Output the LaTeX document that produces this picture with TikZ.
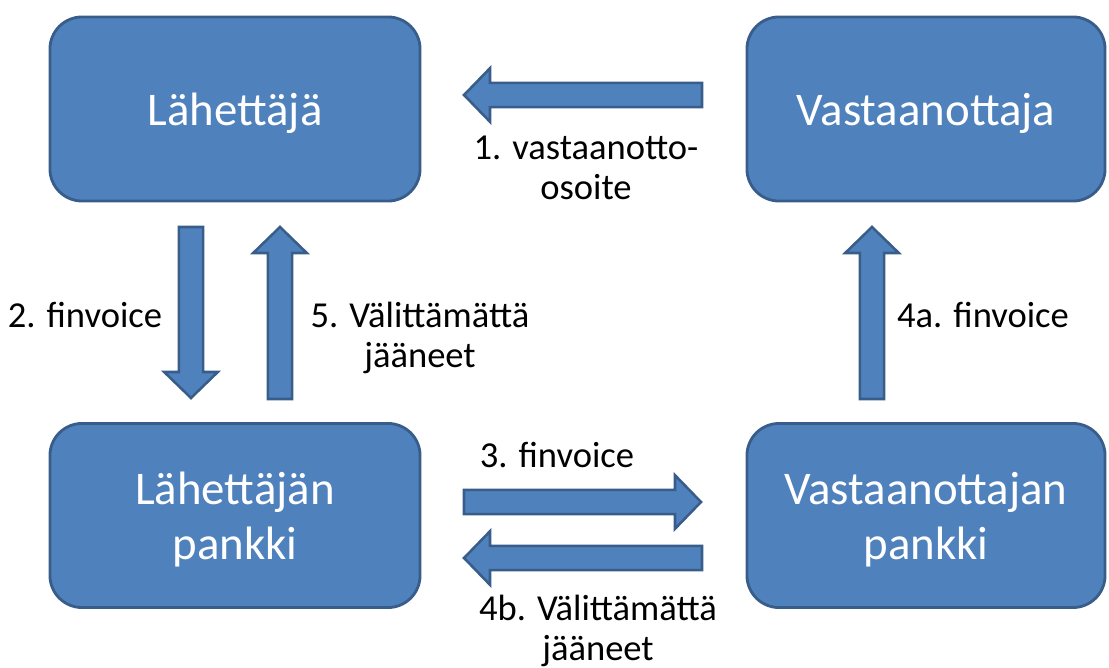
\documentclass[tikz,border=0pt]{standalone}
\usepackage{fontspec}
\setmainfont{Carlito}
\usetikzlibrary{calc}

% Block arrow from #1 (tail) to #2 (tip)
\newcommand{\blockarrow}[2]{%
  \draw[flowarrow] let \p1=($(#2)!\headLen!(#1)$) in
    ($(#1)!\shaftW!90:(#2)$) -- ($(\p1)!\shaftW!90:(#2)$) -- ($(\p1)!\headW!90:(#2)$) -- (#2)
    -- ($(\p1)!\headW!-90:(#2)$) -- ($(\p1)!\shaftW!-90:(#2)$) -- ($(#1)!\shaftW!-90:(#2)$) -- cycle;}

\begin{document}
\begin{tikzpicture}[x=0.025cm, y=-0.025cm,
    partybox/.style={draw=boxBorder, line width=2pt, fill=boxFill, rounded corners=0.8cm,
      text=white, align=center, font=\fontsize{33.3}{39}\selectfont, inner sep=0pt,
      text depth=0pt, minimum height=4.6cm},
    flowlabel/.style={align=center, font=\fontsize{26}{28}\selectfont, inner sep=0pt},
    flowarrow/.style={draw=boxBorder, line width=1.8pt, fill=boxFill}]
    % Define colors
    \definecolor{boxFill}{RGB}{79,129,189}
    \definecolor{boxBorder}{RGB}{56,93,138}

    % Arrow sizes
    \def\shaftW{0.305cm}
    \def\headW{0.67cm}
    \def\headLen{0.65cm}

    \useasboundingbox (0,0) rectangle (1109,668);

    % Draw boxes
    \node[partybox, minimum width=9.25cm] (sender) at (235,109) {Lähettäjä};
    \node[partybox, minimum width=8.95cm] (receiver) at (926,109) {Vastaanottaja};
    \node[partybox, minimum width=9.25cm] (senderBank) at (235,515.5) {Lähettäjän\\pankki};
    \node[partybox, minimum width=8.95cm] (receiverBank) at (926,515.5) {Vastaanottajan\\pankki};

    % Arrow end points
    \coordinate (start1) at (702,95);
    \coordinate (end1) at (464,95);
    \coordinate (start2) at (191,227);
    \coordinate (end2) at (191,398);
    \coordinate (start3) at (464,502);
    \coordinate (end3) at (701,502);
    \coordinate (start4a) at (872,399);
    \coordinate (end4a) at (872,227);
    \coordinate (start4b) at (702,558);
    \coordinate (end4b) at (464,558);
    \coordinate (start5) at (280,399);
    \coordinate (end5) at (280,227);

    % Draw arrows
    \blockarrow{start1}{end1}
    \blockarrow{start2}{end2}
    \blockarrow{start3}{end3}
    \blockarrow{start4a}{end4a}
    \blockarrow{start4b}{end4b}
    \blockarrow{start5}{end5}

    % Add labels
    \node[flowlabel] (label1) at (586,168) {1. vastaanotto-\\osoite};
    \node[flowlabel] (label2) at (85,315) {2. finvoice};
    \node[flowlabel] (label3) at (557,455) {3. finvoice};
    \node[flowlabel] (label4a) at (983,315) {4a. finvoice};
    \node[flowlabel] (label4b) at (598,631) {4b. Välittämättä\\jääneet};
    \node[flowlabel] (label5) at (420,338) {5. Välittämättä\\jääneet};
\end{tikzpicture}
\end{document}
